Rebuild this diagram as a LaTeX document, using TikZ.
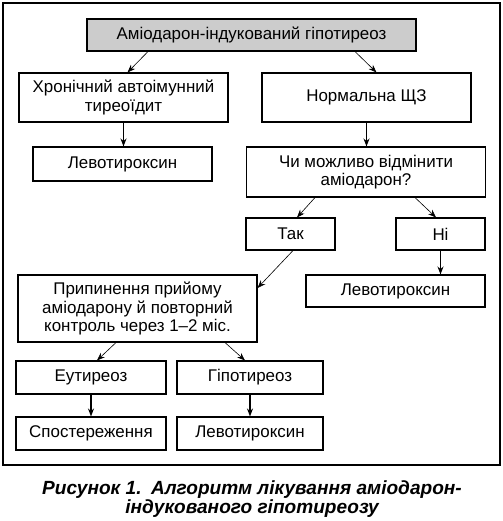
\documentclass[tikz,border=0pt]{standalone}
\usepackage{fontspec}
\setmainfont{Liberation Sans}
\usepackage{xcolor}
\usetikzlibrary{calc,arrows.meta}

\begin{document}
\begin{tikzpicture}[x=0.75pt, y=-0.75pt, font=\fontsize{12.7}{13.6}\selectfont]
		% Define styles with simple colors
		\tikzstyle{box} = [rectangle, draw=black, line width=0.8pt, inner sep=0pt, align=center]
		\tikzstyle{title} = [box, fill=gray!40]
		\tikzstyle{arrow} = [line width=0.9pt,-{Stealth[length=6pt,width=4.5pt]},draw=black]
		\tikzstyle{thinarrow} = [line width=0.45pt,-{Stealth[length=6pt,width=4.5pt]},draw=black]

		\useasboundingbox (0,0) rectangle (503,521);
		\draw[line width=0.8pt] (3,3) rectangle (500,465);

		% Nodes
		\node[title, minimum width=246.75pt, minimum height=24pt] (start) at (251.5,35) {Аміодарон-індукований гіпотиреоз};
		\node[box, minimum width=156.75pt, minimum height=36.75pt] (chronic) at (123.5,97.5) {Хронічний автоімунний\\тиреоїдит};
		\node[box, minimum width=156.75pt, minimum height=36.75pt] (normal) at (366.5,97.5) {Нормальна ЩЗ};
		\node[box, minimum width=134.25pt, minimum height=25.5pt] (levoA) at (122.5,164) {Левотироксин};
		\node[box, minimum width=179.25pt, minimum height=37.5pt] (question) at (366,172) {Чи можливо відмінити\\аміодарон?};
		\node[box, minimum width=66.75pt, minimum height=24pt] (yes) at (290.5,234) {Так};
		\node[box, minimum width=66.75pt, minimum height=24pt] (no) at (440.5,234) {Ні};
		\node[box, minimum width=134.25pt, minimum height=24pt] (levoB) at (395.5,291) {Левотироксин};
		\node[box, minimum width=179.25pt, minimum height=50.25pt] (stop) at (137.5,308.5) {Припинення прийому\\аміодарону й повторний\\контроль через 1–2 міс.};
		\node[box, minimum width=112.5pt, minimum height=24.75pt] (euthyr) at (91,377.5) {Еутиреоз};
		\node[box, minimum width=109.5pt, minimum height=24.75pt] (hypothyr) at (250,377.5) {Гіпотиреоз};
		\node[box, minimum width=112.5pt, minimum height=24.75pt] (observe) at (91,433.5) {Спостереження};
		\node[box, minimum width=109.5pt, minimum height=24.75pt] (levoC) at (250,433.5) {Левотироксин};

		% Arrows
		\draw[thinarrow] ($(start.south)+(-103.5,0)$) -- ($(chronic.north)+(4,0)$);
		\draw[thinarrow] ($(start.south)+(103.5,0)$) -- ($(normal.north)+(10,0)$);
		\draw[arrow] (chronic.south) -- (chronic.south |- levoA.north);
		\draw[arrow] (normal.south) -- (normal.south |- question.north);
		\draw[thinarrow] ($(question.south)+(-51,0)$) -- ($(yes.north)+(6.5,0)$);
		\draw[thinarrow] ($(question.south)+(49,0)$) -- ($(no.north)+(-4.5,0)$);
		\draw[arrow] (no.south) -- (no.south |- levoB.north);
		\draw[thinarrow] ($(yes.south)+(2.5,0)$) -- ($(stop.east)+(0,-20.5)$);
		\draw[thinarrow] ($(stop.south)+(-21.5,0)$) -- ($(euthyr.north)+(6,0)$);
		\draw[thinarrow] ($(stop.south)+(87.5,0)$) -- ($(hypothyr.north)+(-5,0)$);
		\draw[arrow] (euthyr.south) -- (euthyr.south |- observe.north);
		\draw[arrow] (hypothyr.south) -- (hypothyr.south |- levoC.north);

		% Caption
		\node[font=\fontsize{14.3}{14.6}\selectfont\bfseries\itshape, align=center] (caption) at (252,499) {Рисунок 1.\enspace Алгоритм лікування аміодарон-\\індукованого гіпотиреозу};
	\end{tikzpicture}
\end{document}
